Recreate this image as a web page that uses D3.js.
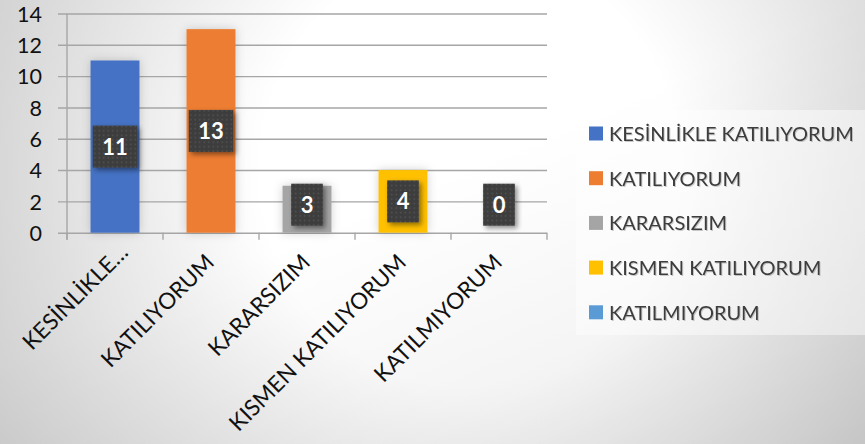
<!DOCTYPE html>
<html>
<head>
<meta charset="utf-8">
<style>
  body { margin: 0; }
  svg { display: block; }
  text { font-family: Lato, "Open Sans", sans-serif; }
</style>
</head>
<body>
<script src="https://cdn.jsdelivr.net/npm/d3@7"></script>
<script>
  // chart data
  var categories = ["KESİNLİKLE KATILIYORUM", "KATILIYORUM", "KARARSIZIM", "KISMEN KATILIYORUM", "KATILMIYORUM"];
  var tickLabels = ["KESİNLİKLE…", "KATILIYORUM", "KARARSIZIM", "KISMEN KATILIYORUM", "KATILMIYORUM"];
  var values = [11, 13, 3, 4, 0];
  var yTicks = [0, 2, 4, 6, 8, 10, 12, 14];
  var colors = ["#4472C4", "#ED7D31", "#A5A5A5", "#FFC000", "#5B9BD5"];

  var width = 865, height = 444;
  var plotLeft = 67, plotRight = 547, plotTop = 13.5, plotBottom = 232.7;

  var svg = d3.select("body").append("svg")
    .attr("width", width)
    .attr("height", height);

  var defs = svg.append("defs");

  // background: soft radial white centre, grey edges
  var bg = defs.append("radialGradient").attr("id", "bg")
    .attr("gradientUnits", "userSpaceOnUse")
    .attr("cx", 470).attr("cy", 170).attr("r", 600)
    .attr("gradientTransform", "translate(470,170) scale(1,1.033) translate(-470,-170)");
  bg.append("stop").attr("offset", 0).attr("stop-color", "#ffffff");
  bg.append("stop").attr("offset", 0.35).attr("stop-color", "#ffffff");
  bg.append("stop").attr("offset", 1).attr("stop-color", "#c4c4c4");

  var shade = defs.append("linearGradient").attr("id", "shade")
    .attr("x1", 0.5).attr("y1", 0.4).attr("x2", 1).attr("y2", 1);
  shade.append("stop").attr("offset", 0).attr("stop-color", "#000").attr("stop-opacity", 0);
  shade.append("stop").attr("offset", 1).attr("stop-color", "#000").attr("stop-opacity", 0.08);

  var dots = defs.append("pattern").attr("id", "dots")
    .attr("patternUnits", "userSpaceOnUse")
    .attr("width", 4.5).attr("height", 4.5);
  dots.append("rect").attr("width", 4.5).attr("height", 4.5).attr("fill", "#3d3d3d");
  dots.append("circle").attr("cx", 2.25).attr("cy", 2.25).attr("r", 0.8).attr("fill", "#555");

  defs.append("filter").attr("id", "boxShadow")
    .attr("x", "-50%").attr("y", "-50%").attr("width", "200%").attr("height", "200%")
    .append("feDropShadow")
    .attr("dx", 2.5).attr("dy", 2.5).attr("stdDeviation", 2.5)
    .attr("flood-color", "#000").attr("flood-opacity", 0.45);

  defs.append("filter").attr("id", "barGlow")
    .attr("x", "-50%").attr("y", "-50%").attr("width", "200%").attr("height", "200%")
    .append("feDropShadow")
    .attr("dx", 0).attr("dy", 0).attr("stdDeviation", 5)
    .attr("flood-color", "#000").attr("flood-opacity", 0.18);

  defs.append("filter").attr("id", "textShadow")
    .append("feDropShadow")
    .attr("dx", 1).attr("dy", 1).attr("stdDeviation", 0.6)
    .attr("flood-color", "#000").attr("flood-opacity", 0.2);

  svg.append("rect").attr("width", width).attr("height", height).attr("fill", "url(#bg)");
  svg.append("rect").attr("width", width).attr("height", height).attr("fill", "url(#shade)");

  // scales
  var x = d3.scaleBand()
    .domain(categories)
    .range([plotLeft, plotRight])
    .paddingInner(0.49)
    .paddingOuter(0.245);

  var y = d3.scaleLinear()
    .domain([0, 14])
    .range([plotBottom, plotTop]);

  // y axis with gridlines
  var yAxis = svg.append("g")
    .attr("transform", "translate(58,0)")
    .call(d3.axisLeft(y).tickValues(yTicks).tickSize(-(plotRight - 58)).tickPadding(16));
  yAxis.select(".domain").remove();
  yAxis.selectAll(".tick line").attr("stroke", "#a6a6a6").attr("stroke-width", 1.4);
  yAxis.selectAll(".tick text")
    .attr("fill", "#111")
    .style("font-size", "21.5px")
    .attr("dy", "0.36em");

  // vertical axis line
  svg.append("line")
    .attr("x1", plotLeft).attr("x2", plotLeft)
    .attr("y1", plotTop).attr("y2", plotBottom + 7)
    .attr("stroke", "#a6a6a6").attr("stroke-width", 1.4);

  // category tick marks at band edges
  svg.append("g").selectAll("line")
    .data(d3.range(categories.length + 1))
    .join("line")
    .attr("x1", function (i) { return plotLeft + i * x.step(); })
    .attr("x2", function (i) { return plotLeft + i * x.step(); })
    .attr("y1", plotBottom)
    .attr("y2", plotBottom + 7)
    .attr("stroke", "#a6a6a6").attr("stroke-width", 1.4);

  // bars
  svg.append("g").selectAll("rect")
    .data(values)
    .join("rect")
    .attr("x", function (d, i) { return x(categories[i]); })
    .attr("y", function (d) { return y(d); })
    .attr("width", x.bandwidth())
    .attr("height", function (d) { return y(0) - y(d); })
    .attr("fill", function (d, i) { return colors[i]; })
    .attr("filter", "url(#barGlow)");

  // x axis labels (truncated label sits a bit further along, like excel does)
  var xAxis = svg.append("g")
    .attr("transform", "translate(0," + plotBottom + ")")
    .call(d3.axisBottom(x).tickSize(0).tickFormat(function (d, i) { return tickLabels[i]; }));
  xAxis.select(".domain").remove();
  xAxis.selectAll(".tick text")
    .attr("fill", "#111")
    .style("font-size", "22.5px")
    .attr("text-anchor", "end")
    .attr("x", 4.5)
    .attr("y", 31)
    .attr("dy", 0)
    .attr("dx", function () { return /…$/.test(this.textContent) ? 14 : 0; })
    .attr("transform", "rotate(-45,4.5,31)");

  // data labels
  var labels = svg.append("g").selectAll("g")
    .data(values)
    .join("g")
    .attr("transform", function (d, i) {
      var cy = Math.min(y(d / 2), plotBottom - 28);
      return "translate(" + (x(categories[i]) + x.bandwidth() / 2) + "," + cy + ")";
    });

  labels.append("text")
    .text(function (d) { return d; })
    .attr("text-anchor", "middle")
    .attr("dy", "0.36em")
    .attr("fill", "#fff")
    .style("font-size", "22px")
    .style("font-weight", "bold");

  labels.each(function () {
    var g = d3.select(this);
    var w = g.select("text").node().getComputedTextLength() + 19;
    g.insert("rect", "text")
      .attr("x", -w / 2).attr("y", -21)
      .attr("width", w).attr("height", 42)
      .attr("fill", "url(#dots)")
      .attr("filter", "url(#boxShadow)");
  });

  // legend
  svg.append("rect")
    .attr("x", 576).attr("y", 110)
    .attr("width", width - 576).attr("height", 225)
    .attr("fill", "#fff").attr("fill-opacity", 0.45);

  var legend = svg.append("g").selectAll("g")
    .data(categories)
    .join("g")
    .attr("transform", function (d, i) { return "translate(589," + (133.5 + i * 44.7) + ")"; });

  legend.append("rect")
    .attr("x", 0).attr("y", -7)
    .attr("width", 14).attr("height", 14)
    .attr("fill", function (d, i) { return colors[i]; });

  legend.append("text")
    .attr("x", 20)
    .attr("y", 7.5)
    .attr("fill", "#3c3c3c")
    .attr("filter", "url(#textShadow)")
    .style("font-size", "20px")
    .text(function (d) { return d; });
</script>
</body>
</html>
